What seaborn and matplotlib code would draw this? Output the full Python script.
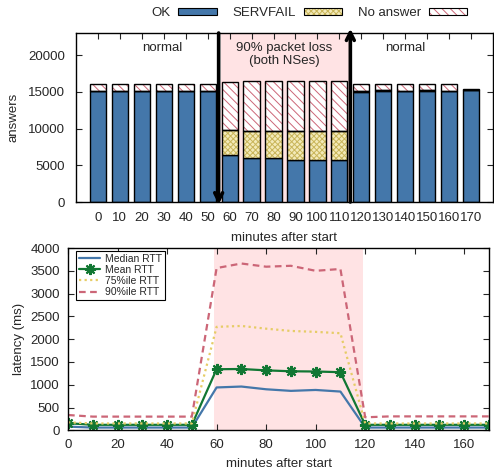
import matplotlib
matplotlib.use('Agg')
import matplotlib.pyplot as plt
import numpy as np
import pandas as pd
import seaborn as sns
from matplotlib.patches import Patch

# data
minutes = list(range(0, 180, 10))
ok = [15150, 15150, 15150, 15150, 15150, 15150, 6360, 5950, 5950, 5770, 5680, 5770,
      14950, 15150, 15100, 15150, 15100, 15220]
servfail = [0, 0, 0, 0, 0, 0, 3410, 3690, 3690, 3870, 3960, 3870,
            150, 30, 30, 30, 30, 30]
no_answer = [950, 950, 950, 950, 950, 950, 6500, 6810, 6810, 6810, 6810, 6810,
             1000, 920, 950, 920, 950, 110]

rtt_median = [80, 60, 60, 60, 60, 60, 940, 960, 900, 865, 885, 850, 60, 60, 60, 60, 60, 60]
rtt_mean = [155, 120, 120, 120, 120, 120, 1340, 1345, 1315, 1295, 1290, 1275,
            120, 120, 120, 120, 120, 120]
rtt_p75 = [175, 150, 150, 150, 150, 150, 2270, 2290, 2230, 2180, 2160, 2130,
           150, 150, 150, 150, 150, 150]
rtt_p90 = [335, 300, 300, 300, 300, 300, 3560, 3660, 3590, 3610, 3500, 3540,
           285, 305, 305, 305, 305, 305]

blue = '#4477aa'
green = '#117733'
yellow_bg = '#f3eab8'
yellow_hatch = '#c9b55a'
red = '#cc6677'
pink = '#ffe3e4'

sns.set_style('ticks')
plt.rcParams['font.family'] = ['Liberation Sans', 'DejaVu Sans']
plt.rcParams['hatch.linewidth'] = 0.7
plt.rcParams['axes.edgecolor'] = 'black'

fig = plt.figure(figsize=(4.94, 4.70), dpi=100)
ax1 = fig.add_axes([0.1538, 0.5702, 0.8442, 0.3596])
ax2 = fig.add_axes([0.1377, 0.0845, 0.8522, 0.3878])

# ---- top: stacked answers ----
pos = np.arange(len(minutes))
ok_a = np.array(ok)
sf_a = np.array(servfail)
na_a = np.array(no_answer)
w = 0.74

ax1.axvspan(5.6, 11.45, color=pink, lw=0, zorder=0)
ax1.bar(pos, ok_a, width=w, color=blue, edgecolor='black', lw=1, zorder=2)
ax1.bar(pos, sf_a, width=w, bottom=ok_a, color=yellow_bg, edgecolor=yellow_hatch,
        hatch='xxxxxx', lw=0, zorder=2)
ax1.bar(pos, sf_a, width=w, bottom=ok_a, fill=False, edgecolor='black', lw=1, zorder=3)
ax1.bar(pos, na_a, width=w, bottom=ok_a + sf_a, color='white', edgecolor=red,
        hatch='\\\\\\\\', lw=0, zorder=2)
ax1.bar(pos, na_a, width=w, bottom=ok_a + sf_a, fill=False, edgecolor='black', lw=1, zorder=3)

ax1.set_xlim(-1, 18)
ax1.set_ylim(0, 23000)
ax1.set_xticks(pos, [str(m) for m in minutes])
ax1.set_yticks(range(0, 20001, 5000))
ax1.tick_params(axis='x', bottom=False, top=True, direction='in', length=4,
                labelsize=9.5, pad=7)
ax1.tick_params(axis='y', left=True, right=True, direction='in', length=4,
                labelsize=9.5, pad=8)
ax1.set_xlabel('minutes after start', fontsize=9.5, labelpad=6)
ax1.set_ylabel('answers', fontsize=9.5, labelpad=6)

ax1.text(2.95, 20950, 'normal', ha='center', va='center', fontsize=9.5)
ax1.text(14.0, 20950, 'normal', ha='center', va='center', fontsize=9.5)
ax1.text(8.5, 20100, '90% packet loss\n(both NSes)', ha='center', va='center',
         fontsize=9.5, linespacing=1.05)

arrow = dict(arrowstyle='->', lw=2.6, color='black', shrinkA=0, shrinkB=0,
             mutation_scale=14)
ax1.annotate('', xy=(5.5, -350), xytext=(5.5, 23000), arrowprops=arrow,
             annotation_clip=False, zorder=5)
ax1.annotate('', xy=(11.5, 23600), xytext=(11.5, 0), arrowprops=arrow,
             annotation_clip=False, zorder=5)

handles = [
    Patch(facecolor=blue, edgecolor='black', lw=0.8),
    (Patch(facecolor=yellow_bg, edgecolor=yellow_hatch, hatch='xxxxxx', lw=0),
     Patch(fill=False, edgecolor='black', lw=0.8)),
    (Patch(facecolor='white', edgecolor=red, hatch='\\\\\\\\', lw=0),
     Patch(fill=False, edgecolor='black', lw=0.8)),
]
fig.legend(handles, ['OK', 'SERVFAIL', 'No answer'], loc='center',
           bbox_to_anchor=(0.626, 0.972), ncol=3, frameon=False, markerfirst=False,
           fontsize=9.5, handlelength=2.9, handleheight=0.5, handletextpad=0.6,
           columnspacing=1.2, borderpad=0)

# ---- bottom: latency ----
ax2.axvspan(59, 119.3, color=pink, lw=0, zorder=0)
df = pd.DataFrame({'minutes': minutes, 'median': rtt_median, 'mean': rtt_mean,
                   'p75': rtt_p75, 'p90': rtt_p90})
sns.lineplot(data=df, x='minutes', y='median', ax=ax2, color=blue, lw=1.6,
             label='Median RTT')
sns.lineplot(data=df, x='minutes', y='mean', ax=ax2, color=green, lw=1.6,
             marker=(8, 2, 0), markersize=8, markeredgewidth=1.5,
             markeredgecolor=green, label='Mean RTT')
sns.lineplot(data=df, x='minutes', y='p75', ax=ax2, color='#e6cc66', lw=1.6,
             linestyle=(0, (1, 1.5)), label='75%ile RTT')
sns.lineplot(data=df, x='minutes', y='p90', ax=ax2, color=red, lw=1.6,
             linestyle=(0, (3, 2)), label='90%ile RTT')

ax2.set_xlim(0, 170)
ax2.set_ylim(0, 4000)
ax2.set_xticks(range(0, 161, 20))
ax2.set_yticks(range(0, 4001, 500))
ax2.tick_params(axis='both', direction='in', top=True, right=True, length=4,
                labelsize=9.5)
ax2.tick_params(axis='x', pad=6)
ax2.tick_params(axis='y', pad=6)
ax2.set_xlabel('minutes after start', fontsize=9.5, labelpad=5)
ax2.set_ylabel('latency (ms)', fontsize=9.5, labelpad=4)

leg = ax2.legend(loc='upper left', bbox_to_anchor=(0.019, 0.984), borderaxespad=0,
                 frameon=True, fancybox=False, edgecolor='black', framealpha=1,
                 fontsize=7.5, handlelength=2.0, labelspacing=0.1, borderpad=0.3,
                 handletextpad=0.5)
leg.get_frame().set_linewidth(0.8)

for ax in (ax1, ax2):
    for s in ax.spines.values():
        s.set_linewidth(1)
        s.set_color('black')

fig.savefig('out.png', dpi=100)
